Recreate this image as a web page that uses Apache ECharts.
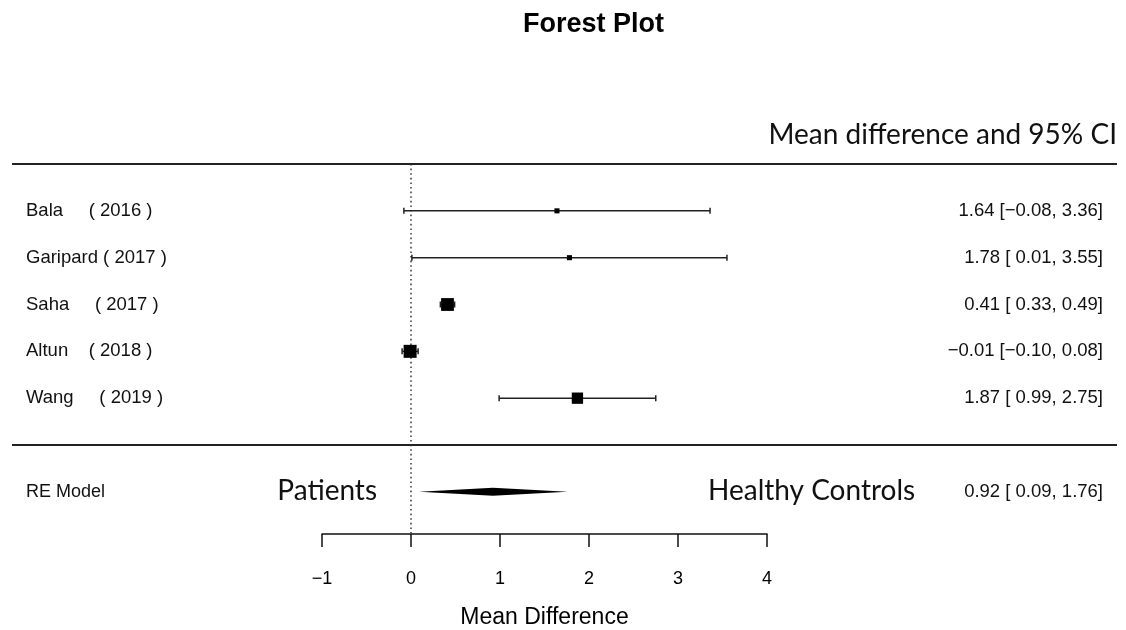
<!DOCTYPE html>
<html>
<head>
<meta charset="utf-8">
<script src="https://cdn.jsdelivr.net/npm/echarts@6/dist/echarts.min.js"></script>
<style>
html,body{margin:0;padding:0;background:#fff;}
#chart{width:1126px;height:630px;}
</style>
</head>
<body>
<div id="chart"></div>
<script>
// ---- data ----
const studyLabels = ['Bala     ( 2016 )', 'Garipard ( 2017 )', 'Saha     ( 2017 )', 'Altun    ( 2018 )', 'Wang     ( 2019 )'];
const estimates = [1.64, 1.78, 0.41, -0.01, 1.87];
const ciLower = [-0.08, 0.01, 0.33, -0.10, 0.99];
const ciUpper = [3.36, 3.55, 0.49, 0.08, 2.75];
const weights = [5, 5, 32, 33, 25]; // estimated relative weights (marker area)
const pooledLabel = 'RE Model';
const pooledEstimate = 0.92;
const pooledLower = 0.09;
const pooledUpper = 1.76;
const xTicks = [-1, 0, 1, 2, 3, 4];
const headerText = 'Mean difference and 95% CI';
const leftSideText = 'Patients';
const rightSideText = 'Healthy Controls';
const xAxisTitle = 'Mean Difference';
const chartTitle = 'Forest Plot';

// ---- helpers ----
const MINUS = '\u2212';
function fmt(v) { return (v < 0 ? MINUS : '') + Math.abs(v).toFixed(2); }
function fmtPad(v) { return (v < 0 ? '' : ' ') + fmt(v); }
function ciText(e, l, u) { return fmt(e) + ' [' + fmtPad(l) + ', ' + fmt(u) + ']'; }

const k = studyLabels.length;
const rows = studyLabels.map((_, i) => k - i);
const topRule = k + 1;
const bottomRule = 0;
const pooledRow = -1;
const yMin = -1.9;

const LABEL_X = 26;
const RIGHT_X = 1103;
const RULE_L = 12, RULE_R = 1117;
const maxW = Math.max.apply(null, weights);
const MAX_SQ = 13;
const textFont = '"Liberation Sans", Arial, sans-serif';
const calFont = 'Lato, "Open Sans", sans-serif';

const studyData = rows.map((r, i) => [r, estimates[i], ciLower[i], ciUpper[i], weights[i], i]);

const chart = echarts.init(document.getElementById('chart'), null, {renderer: 'canvas'});
const option = {
  animation: false,
  backgroundColor: '#fff',
  title: {
    text: chartTitle,
    left: 518, top: 6,
    textStyle: {fontFamily: textFont, fontWeight: 'bold', fontSize: 27, color: '#000'}
  },
  grid: {left: 322, width: 445, top: 164, height: 370, containLabel: false, outerBoundsMode: 'none'},
  xAxis: {
    type: 'value', min: xTicks[0], max: xTicks[xTicks.length - 1], interval: 1,
    axisLine: {show: true, onZero: false, lineStyle: {color: '#111', width: 1.5}},
    axisTick: {show: true, length: 13, lineStyle: {color: '#111', width: 1.5}},
    axisLabel: {color: '#000', fontFamily: textFont, fontSize: 18, margin: 36,
      formatter: v => (v < 0 ? MINUS : '') + Math.abs(v)},
    splitLine: {show: false},
    name: xAxisTitle, nameLocation: 'middle', nameGap: 72,
    nameTextStyle: {color: '#000', fontFamily: textFont, fontSize: 23}
  },
  yAxis: {type: 'value', min: yMin, max: topRule, show: false, splitLine: {show: false}},
  graphic: [
    {type: 'text', right: 1126 - 1117, top: 121,
      style: {text: headerText, font: '28px ' + calFont, fill: '#111'}}
  ],
  series: [
    {
      type: 'line', silent: true, symbol: 'none', clip: false,
      data: [[0, topRule], [0, yMin]],
      lineStyle: {color: '#444', width: 1.6, type: [1.6, 3]}, z: 1
    },
    {
      type: 'custom', silent: true, clip: false,
      data: [[topRule], [bottomRule]],
      encode: {y: 0},
      renderItem: (params, api) => {
        const y = api.coord([0, api.value(0)])[1];
        return {type: 'line', shape: {x1: RULE_L, y1: y, x2: RULE_R, y2: y},
          style: {stroke: '#222', lineWidth: 2}};
      }
    },
    {
      type: 'custom', silent: true, clip: false, z: 3,
      data: studyData,
      encode: {x: [1, 2, 3], y: 0},
      renderItem: (params, api) => {
        const row = api.value(0), e = api.value(1), lo = api.value(2), hi = api.value(3), w = api.value(4), idx = api.value(5);
        const c = api.coord([e, row]);
        const l = api.coord([lo, row]);
        const h = api.coord([hi, row]);
        const s = MAX_SQ * Math.sqrt(w / maxW);
        const cap = 3;
        return {type: 'group', children: [
          {type: 'line', shape: {x1: l[0], y1: c[1], x2: h[0], y2: c[1]}, style: {stroke: '#222', lineWidth: 1.5}},
          {type: 'line', shape: {x1: l[0], y1: c[1] - cap, x2: l[0], y2: c[1] + cap}, style: {stroke: '#222', lineWidth: 1.5}},
          {type: 'line', shape: {x1: h[0], y1: c[1] - cap, x2: h[0], y2: c[1] + cap}, style: {stroke: '#222', lineWidth: 1.5}},
          {type: 'rect', shape: {x: c[0] - s / 2, y: c[1] - s / 2, width: s, height: s}, style: {fill: '#000'}},
          {type: 'text', x: LABEL_X, y: c[1], style: {text: studyLabels[idx], font: '18.5px ' + textFont, fill: '#111', verticalAlign: 'middle', align: 'left'}},
          {type: 'text', x: RIGHT_X, y: c[1], style: {text: ciText(e, lo, hi), font: '18.5px ' + textFont, fill: '#111', verticalAlign: 'middle', align: 'right'}}
        ]};
      }
    },
    {
      type: 'custom', silent: true, clip: false, z: 3,
      data: [[pooledRow, pooledEstimate, pooledLower, pooledUpper]],
      encode: {x: [1, 2, 3], y: 0},
      renderItem: (params, api) => {
        const row = api.value(0), e = api.value(1), lo = api.value(2), hi = api.value(3);
        const c = api.coord([e, row]);
        const l = api.coord([lo, row]);
        const h = api.coord([hi, row]);
        const dh = 4;
        return {type: 'group', children: [
          {type: 'polygon', shape: {points: [[l[0], c[1]], [c[0], c[1] - dh], [h[0], c[1]], [c[0], c[1] + dh]]}, style: {fill: '#000'}},
          {type: 'text', x: LABEL_X, y: c[1], style: {text: pooledLabel, font: '18px ' + textFont, fill: '#111', verticalAlign: 'middle', align: 'left'}},
          {type: 'text', x: RIGHT_X, y: c[1], style: {text: ciText(e, lo, hi), font: '18.5px ' + textFont, fill: '#111', verticalAlign: 'middle', align: 'right'}},
          {type: 'text', x: 377, y: c[1] - 1, style: {text: leftSideText, font: '28px ' + calFont, fill: '#111', verticalAlign: 'middle', align: 'right'}},
          {type: 'text', x: 708, y: c[1] - 1, style: {text: rightSideText, font: '28px ' + calFont, fill: '#111', verticalAlign: 'middle', align: 'left'}}
        ]};
      }
    }
  ]
};
chart.setOption(option);
</script>
</body>
</html>
